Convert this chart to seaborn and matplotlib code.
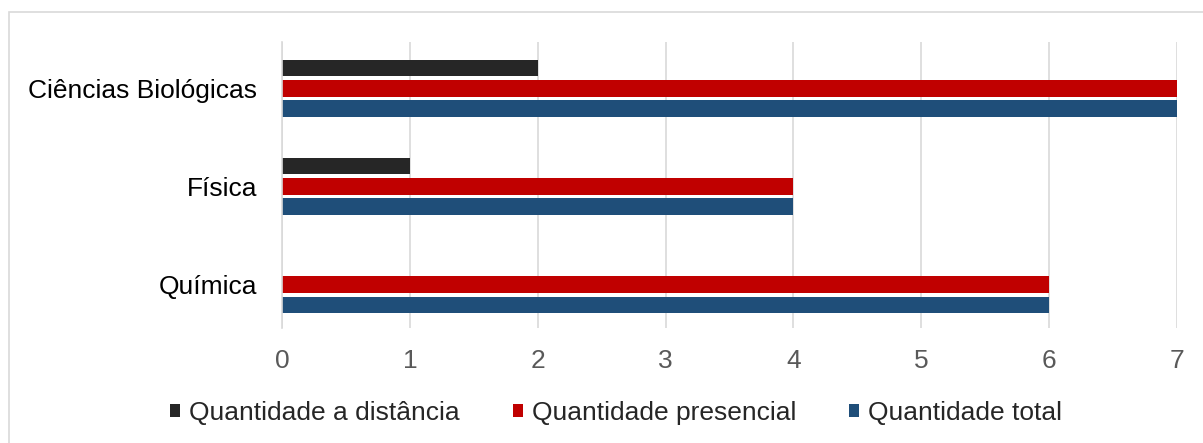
import matplotlib
matplotlib.use("Agg")
import matplotlib.pyplot as plt
import pandas as pd
import seaborn as sns
from matplotlib.patches import Rectangle

cursos = ["Ciências Biológicas", "Física", "Química"]
series = ["Quantidade a distância", "Quantidade presencial", "Quantidade total"]
distancia = [2, 1, 0]
presencial = [7, 4, 6]
total = [7, 4, 6]
cores = ["#262626", "#C00000", "#1F4E79"]

df = pd.DataFrame({
    "curso": cursos * 3,
    "serie": [series[0]] * 3 + [series[1]] * 3 + [series[2]] * 3,
    "valor": distancia + presencial + total,
})

sns.set_theme(style="white")
plt.rcParams["font.family"] = ["Liberation Sans", "DejaVu Sans"]

fig = plt.figure(figsize=(12.03, 4.43), dpi=100)
ax = fig.add_axes([282 / 1203, 1 - 328 / 443, (1177 - 282) / 1203, (328 - 42) / 443])

sns.barplot(data=df, y="curso", x="valor", hue="serie", hue_order=series,
            order=cursos, palette=cores, saturation=1, orient="h",
            width=0.62, gap=0.18, linewidth=0, ax=ax)

ax.set_xlim(0, 7)
ax.set_ylim(2.44, -0.47)
ax.set_xticks(range(8))
ax.xaxis.grid(True, color="#D9D9D9", linewidth=1.2)
ax.set_axisbelow(True)
for s in ["top", "right", "bottom"]:
    ax.spines[s].set_visible(False)
ax.spines["left"].set_color("#D9D9D9")
ax.spines["left"].set_linewidth(1.2)
ax.set_xlabel("")
ax.set_ylabel("")
ax.tick_params(axis="x", colors="#595959", labelsize=19, length=0, pad=15)
ax.tick_params(axis="y", colors="black", labelsize=19, length=0, pad=18)

ax.get_legend().remove()
handles, labels = ax.get_legend_handles_labels()
fig.legend(handles, labels, loc="center", bbox_to_anchor=(616 / 1203, 1 - 413 / 443),
           ncol=3, frameon=False, fontsize=19, handlelength=0.38,
           handleheight=0.38, handletextpad=0.34, columnspacing=2.0)

fig.patches.append(Rectangle((9 / 1203, -0.1), 1.2, 1 - 12 / 443 + 0.1,
                             transform=fig.transFigure, fill=False,
                             edgecolor="#D9D9D9", linewidth=1.2))

fig.savefig("out.png", dpi=100)
